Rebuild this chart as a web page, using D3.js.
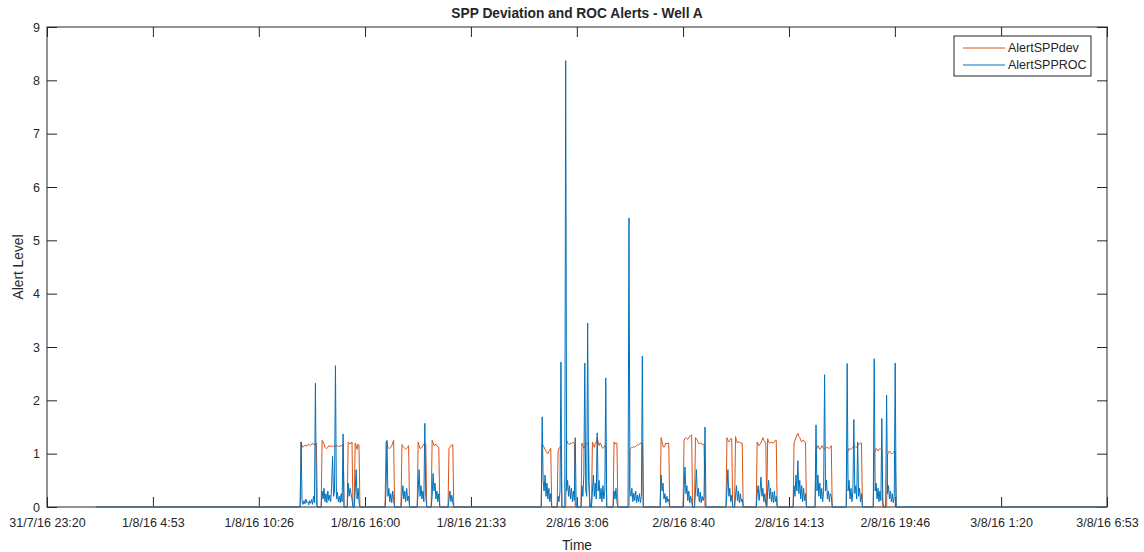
<!DOCTYPE html>
<html lang="en">
<head>
    <meta charset="UTF-8">
    <title>SPP Deviation and ROC Alerts - Well A</title>
    <script src="https://d3js.org/d3.v7.min.js"></script>
    <style>
        body { margin: 0; background: #fff; }
        svg { display: block; font-family: "Liberation Sans", Arial, Helvetica, sans-serif; }
        .axis text { font-size: 12.5px; fill: #262626; }
        .axis line { stroke: #262626; }
        .label { font-size: 13.75px; fill: #262626; }
    </style>
</head>
<body>
    <svg id="chart"></svg>

    <script>
        // x axis tick labels (day/month/year hour:minute)
        const xTickLabels = ["31/7/16 23:20", "1/8/16 4:53", "1/8/16 10:26", "1/8/16 16:00", "1/8/16 21:33",
            "2/8/16 3:06", "2/8/16 8:40", "2/8/16 14:13", "2/8/16 19:46", "3/8/16 1:20", "3/8/16 6:53"];
        const yTicks = [0, 1, 2, 3, 4, 5, 6, 7, 8, 9];

        // logged series runs from here to the end of the axis, 0 outside the alert blocks
        const seriesStart = "1/8/16 1:54";
        const seriesEnd = "3/8/16 6:53";
        const sampleMinutes = 3;

        // first sample of each alert block
        const blockStart = ["1/8/16 12:39", "1/8/16 13:45", "1/8/16 15:07", "1/8/16 15:29", "1/8/16 17:06",
            "1/8/16 17:56", "1/8/16 18:47", "1/8/16 19:31", "1/8/16 20:24", "2/8/16 1:17", "2/8/16 2:07",
            "2/8/16 3:22", "2/8/16 5:03", "2/8/16 5:50", "2/8/16 7:31", "2/8/16 8:43", "2/8/16 10:58",
            "2/8/16 12:33", "2/8/16 14:29", "2/8/16 15:38", "2/8/16 17:16", "2/8/16 18:41"];

        // AlertSPPdev samples in each block
        const devValues = [
            [1.22, 1.15, 1.12, 1.14, 1.16, 1.15, 1.14, 1.17, 1.18, 1.16, 1.15, 1.17, 1.2, 1.18, 1.16, 1.17, 1.2],
            [1.25, 1.22, 1.18, 1.12, 1.1, 1.1, 1.12, 1.15, 1.14, 1.13, 1.15, 1.13, 1.14, 1.15, 1.13, 1.14, 1.15, 1.14, 1.13, 1.15, 1.14, 1.16, 1.18],
            [1.22, 1.2, 1.18, 1.2, 1.22],
            [1.2, 1.15, 1.08, 1.18, 1.15],
            [1.22, 1.18, 1.12, 1.1, 1.1, 1.12, 1.15, 1.2, 1.25],
            [1.17, 1.14, 1.12, 1.1, 1.08, 1.1, 1.12, 1.15],
            [1.22, 1.15, 1.1, 1.1, 1.12, 1.15, 1.18, 1.2, 1.18],
            [1.25, 1.2, 1.15, 1.16, 1.18, 1.15, 1.13, 1.12],
            [1.1, 1.12, 1.15, 1.16, 1.17],
            [1.2, 1.15, 1.12, 1.08, 1.05, 1.02, 1.0, 1.04, 1.08, 1.1],
            [1.05, 1.1, 1.12, 1.15, 0, 0, 0, 0, 0, 1.25, 1.2, 1.18, 1.17, 1.2, 1.19, 1.2, 1.22, 1.2, 0],
            [1.2, 1.15, 1.1, 1.12, 1.18, 1.2, 1.18, 1.2, 0, 0, 0, 1.22, 1.15, 1.12, 1.2, 1.2, 1.3, 1.22, 1.15, 1.2, 1.18, 1.12, 1.1, 1.12, 1.15, 1.15],
            [1.22, 1.18, 1.2, 1.2],
            [0, 1.08, 1.1, 1.12, 1.12, 1.13, 1.12, 1.14, 1.15, 1.17, 1.16, 1.18, 1.2, 1.2, 1.2],
            [1.3, 1.22, 1.15, 1.12, 1.15, 1.2, 1.18, 1.2, 1.2],
            [1.25, 1.28, 1.3, 1.28, 1.27, 1.3, 1.33, 1.34, 1.35, 0, 0, 0, 1.3, 1.28, 1.25, 1.2, 1.18, 1.2, 1.2, 1.18, 1.17, 1.18, 0],
            [1.3, 1.25, 1.22, 1.25, 1.28, 1.28, 0, 0, 0, 1.32, 1.25, 1.2, 1.22, 1.22, 1.2, 1.2, 1.2],
            [1.22, 1.18, 1.15, 1.18, 1.2, 1.25, 1.3, 1.25, 1.22, 1.2, 0, 1.28, 1.22, 1.2, 1.2, 1.22, 1.2, 1.2, 1.22, 1.25, 1.25],
            [1.2, 1.25, 1.3, 1.35, 1.38, 1.32, 1.3, 1.25, 1.22, 1.25, 1.25, 1.22, 1.2],
            [1.05, 1.1, 1.15, 1.12, 1.08, 1.1, 1.15, 1.12, 1.1, 1.08, 1.1, 1.12, 1.12, 1.1, 1.1, 1.12, 1.15],
            [1.0, 1.05, 1.1, 1.08, 1.08, 1.1, 1.12, 1.15, 1.14, 1.12, 1.12, 1.15, 1.18, 1.18, 1.2, 1.2],
            [1.0, 1.05, 1.1, 1.08, 1.05, 1.08, 1.1, 1.08, 1.08, 0, 0, 0, 0, 0, 0.98, 1.02, 1.05, 1.02, 1.0, 1.0, 1.02, 1.05, 1.05]
        ];

        // AlertSPPROC samples in each block
        const rocValues = [
            [1.22, 0.1, 0.05, 0.12, 0.06, 0.15, 0.08, 0.1, 0.04, 0.12, 0.07, 0.14, 0.05, 0.2, 0.08, 2.32, 0.05],
            [0.3, 0.15, 0.35, 0.1, 0.25, 0.08, 0.3, 0.12, 0.22, 0.1, 0.4, 0.95, 0.2, 0.3, 2.65, 0.15, 0.28, 0.1, 0.2, 0.08, 0.25, 0.1, 1.37],
            [0.45, 0.2, 0.35, 0.25, 0.15],
            [0.3, 0.7, 0.15, 0.35, 0.1],
            [0.3, 1.25, 0.2, 0.35, 0.1, 0.25, 0.08, 0.3, 0.12],
            [0.2, 0.4, 0.15, 0.3, 0.1, 0.35, 0.12, 0.2],
            [0.3, 0.7, 0.2, 0.4, 0.15, 0.3, 0.1, 1.57, 0.2],
            [0.2, 0.63, 0.3, 0.45, 0.15, 0.3, 0.1, 0.25],
            [0.15, 0.3, 0.1, 0.22, 0.08],
            [1.69, 0.5, 0.3, 0.6, 0.2, 0.45, 0.15, 0.35, 0.1, 0.25],
            [0.2, 0.1, 0.3, 2.72, 0, 0, 0, 0, 8.37, 0.3, 0.5, 0.2, 0.4, 0.15, 0.35, 0.1, 0.3, 0.12, 1.3],
            [0.4, 0.2, 0.6, 2.7, 0.3, 0.2, 3.45, 0.5, 0.2, 0, 0, 0.3, 0.6, 0.2, 0.45, 0.15, 1.39, 0.3, 0.5, 0.15, 0.35, 0.1, 0.4, 0.15, 0.3, 2.42],
            [0.3, 0.15, 0.35, 0.1],
            [5.42, 0.3, 0.2, 0.35, 0.1, 0.26, 0.12, 0.3, 0.08, 0.22, 0.1, 0.25, 0.08, 0.2, 2.83],
            [0.6, 0.3, 0.45, 0.15, 0.25, 0.08, 0.2, 0.1, 0.15],
            [0.3, 0.75, 0.25, 0.4, 0.12, 0.3, 0.08, 0.2, 0.1, 0, 0, 0, 0.3, 0.7, 0.2, 0.35, 0.1, 0.28, 0.08, 0.2, 0.12, 0.2, 1.5],
            [0.3, 0.7, 0.2, 0.35, 0.1, 0.22, 0, 0, 0, 0.2, 0.4, 0.12, 0.3, 0.08, 0.25, 0.1, 0.15],
            [0.25, 0.4, 0.12, 0.3, 0.56, 0.2, 0.35, 0.1, 0.25, 0.05, 0, 0.3, 0.5, 0.15, 0.35, 0.1, 0.28, 0.08, 0.3, 0.1, 0.2],
            [0.4, 0.2, 0.6, 0.3, 0.87, 0.25, 0.5, 0.15, 0.4, 0.1, 0.35, 0.12, 0.25],
            [1.54, 0.3, 0.6, 0.2, 0.45, 0.15, 0.35, 0.1, 0.3, 2.48, 0.3, 0.5, 0.15, 0.3, 0.1, 0.25, 0.2],
            [2.69, 0.3, 0.5, 0.15, 0.35, 0.1, 0.3, 1.64, 0.25, 0.4, 0.15, 1.22, 0.2, 0.35, 0.1, 0.25],
            [2.78, 0.3, 0.45, 0.15, 0.35, 0.1, 0.3, 0.12, 1.66, 0.1, 0, 0, 0, 2.1, 0.25, 0.4, 0.15, 0.3, 0.1, 0.25, 0.08, 0.2, 2.7]
        ];

        const seriesNames = ["AlertSPPdev", "AlertSPPROC"];
        const seriesColors = ["#D95319", "#0072BD"];

        // Step 1: parse the times
        const parseTime = d3.timeParse("%d/%m/%y %H:%M");
        const tickDates = xTickLabels.map(parseTime);
        const stepMs = sampleMinutes * 60000;

        // turn the block samples into one continuous line, 0 between blocks
        function buildSeries(values) {
            const pts = [{ t: parseTime(seriesStart), v: 0 }];
            blockStart.forEach((s, b) => {
                const t0 = parseTime(s).getTime();
                pts.push({ t: new Date(t0 - stepMs), v: 0 });
                values[b].forEach((v, i) => pts.push({ t: new Date(t0 + i * stepMs), v: v }));
                pts.push({ t: new Date(t0 + values[b].length * stepMs), v: 0 });
            });
            pts.push({ t: parseTime(seriesEnd), v: 0 });
            return pts;
        }
        const series = [buildSeries(devValues), buildSeries(rocValues)];

        // Step 2: dimensions
        const W = 1144, H = 552;
        const margin = { top: 27, right: 37, bottom: 45, left: 47 };
        const width = W - margin.left - margin.right;
        const height = H - margin.top - margin.bottom;

        const svg = d3.select("#chart").attr("width", W).attr("height", H);
        const g = svg.append("g").attr("transform", `translate(${margin.left},${margin.top})`);

        // Step 3: scales
        const x = d3.scaleTime()
            .domain([tickDates[0], tickDates[tickDates.length - 1]])
            .range([0, width]);
        const y = d3.scaleLinear().domain([0, 9]).range([height, 0]);

        // Step 4: axes, ticks pointing inward on all four sides
        const tick = 10;
        g.append("g").attr("class", "axis")
            .attr("transform", `translate(0,${height})`)
            .call(d3.axisBottom(x).tickValues(tickDates).tickFormat((d, i) => xTickLabels[i])
                .tickSizeInner(-tick).tickSizeOuter(0).tickPadding(11));
        g.append("g").attr("class", "axis")
            .call(d3.axisTop(x).tickValues(tickDates).tickFormat("").tickSizeInner(-tick).tickSizeOuter(0));
        g.append("g").attr("class", "axis")
            .call(d3.axisLeft(y).tickValues(yTicks).tickFormat(d3.format("d"))
                .tickSizeInner(-tick).tickSizeOuter(0).tickPadding(7));
        g.append("g").attr("class", "axis")
            .attr("transform", `translate(${width},0)`)
            .call(d3.axisRight(y).tickValues(yTicks).tickFormat("").tickSizeInner(-tick).tickSizeOuter(0));
        g.selectAll(".axis .domain").remove();

        // box around the plot
        g.append("rect")
            .attr("width", width).attr("height", height)
            .attr("fill", "none").attr("stroke", "#262626").attr("stroke-width", 1);

        // Step 5: lines (dev first, ROC on top)
        const line = d3.line().x(d => x(d.t)).y(d => y(d.v));
        series.forEach((s, i) => {
            g.append("path")
                .datum(s)
                .attr("fill", "none")
                .attr("stroke", seriesColors[i])
                .attr("stroke-width", 1)
                .attr("stroke-linejoin", "round")
                .attr("d", line);
        });

        // Step 6: title and axis labels
        svg.append("text").attr("class", "label")
            .attr("x", margin.left + width / 2).attr("y", 18)
            .attr("text-anchor", "middle").attr("font-weight", "bold")
            .text("SPP Deviation and ROC Alerts - Well A");
        svg.append("text").attr("class", "label")
            .attr("x", margin.left + width / 2).attr("y", 550)
            .attr("text-anchor", "middle")
            .text("Time");
        svg.append("text").attr("class", "label")
            .attr("transform", `translate(23,${margin.top + height / 2}) rotate(-90)`)
            .attr("text-anchor", "middle")
            .text("Alert Level");

        // Step 7: legend in the top right corner
        const legend = svg.append("g").attr("transform", "translate(954,36)");
        legend.append("rect")
            .attr("width", 137).attr("height", 40)
            .attr("fill", "#fff").attr("stroke", "#262626").attr("stroke-width", 1);
        seriesNames.forEach((name, i) => {
            const ly = 12 + i * 17;
            legend.append("line")
                .attr("x1", 9).attr("x2", 51).attr("y1", ly).attr("y2", ly)
                .attr("stroke", seriesColors[i]).attr("stroke-width", 1);
            legend.append("text")
                .attr("x", 54).attr("y", ly).attr("dy", "0.35em")
                .style("font-size", "12.5px").attr("fill", "#262626")
                .text(name);
        });
    </script>
</body>
</html>
